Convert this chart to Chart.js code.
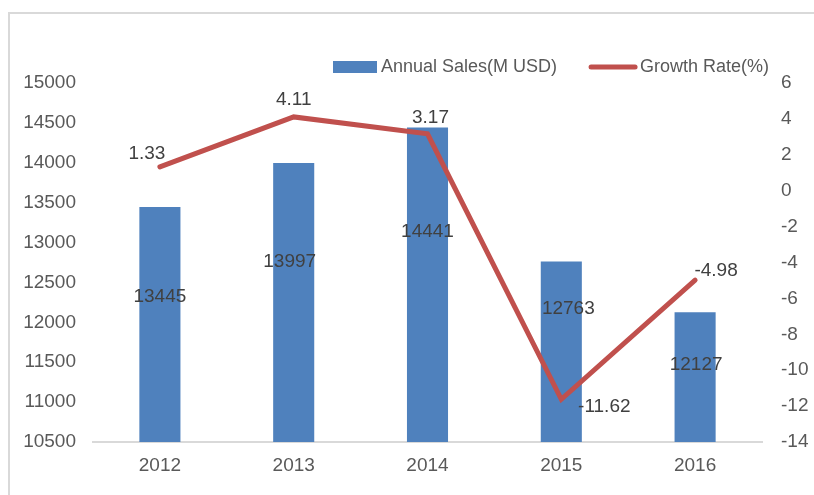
<!DOCTYPE html>
<html>
<head>
<meta charset="utf-8">
<script src="https://cdn.jsdelivr.net/npm/chart.js@4.4.1/dist/chart.umd.min.js"></script>
<style>
  html, body { margin: 0; padding: 0; background: #ffffff; }
  #wrap { position: relative; width: 814px; height: 495px; overflow: hidden; background: #ffffff; }
  #frame { position: absolute; left: 8px; top: 12px; width: 900px; height: 600px; border: 2px solid #d9d9d9; box-sizing: border-box; }
  #c { position: absolute; left: 0; top: 0; }
</style>
</head>
<body>
<div id="wrap">
  <div id="frame"></div>
  <canvas id="c" width="814" height="495"></canvas>
</div>
<script>
// ---- data ----
const years = ['2012', '2013', '2014', '2015', '2016'];
const annualSales = [13445, 13997, 14441, 12763, 12127];
const growthRate = [1.33, 4.11, 3.17, -11.62, -4.98];
const salesLabel = 'Annual Sales(M USD)';
const growthLabel = 'Growth Rate(%)';

const FONT = 'Arial, "Liberation Sans", sans-serif';
const BLUE = '#4F81BD';
const RED = '#C0504D';
const TEXT = '#595959';
const LABEL = '#404040';

// data labels drawn from element positions computed by the library
const dataLabelPlugin = {
  id: 'dataLabels',
  afterDatasetsDraw(chart, args, opts) {
    const ctx = chart.ctx;
    ctx.save();
    ctx.font = '19px ' + FONT;
    ctx.fillStyle = LABEL;
    ctx.textAlign = 'center';
    ctx.textBaseline = 'middle';
    // bars
    const base = chart.scales.y.bottom;
    const barMeta = chart.getDatasetMeta(0);
    barMeta.data.forEach((el, i) => {
      const off = opts.barOffsets[i];
      const p = el.getProps(['x', 'y'], true);
      const cy = (p.y + base) / 2;
      ctx.fillText(String(chart.data.datasets[0].data[i]), p.x + off[0], cy + off[1]);
    });
    // line
    const lineMeta = chart.getDatasetMeta(1);
    lineMeta.data.forEach((el, i) => {
      const off = opts.lineOffsets[i];
      const p = el.getProps(['x', 'y'], true);
      ctx.fillText(chart.data.datasets[1].data[i].toFixed(2), p.x + off[0], p.y + off[1]);
    });
    ctx.restore();
  }
};

// legend drawn from dataset labels/colours
const legendPlugin = {
  id: 'customLegend',
  afterDraw(chart, args, opts) {
    const ctx = chart.ctx;
    const ds = chart.data.datasets;
    ctx.save();
    ctx.font = '18px ' + FONT;
    ctx.textBaseline = 'middle';
    ctx.textAlign = 'left';
    let x = opts.x;
    const y = opts.y;
    // bar item
    ctx.fillStyle = ds[0].backgroundColor;
    ctx.fillRect(x, y - 6, 44, 12);
    x += 44 + 4;
    ctx.fillStyle = TEXT;
    ctx.fillText(ds[0].label, x, y);
    x += ctx.measureText(ds[0].label).width + 32;
    // line item
    ctx.strokeStyle = ds[1].borderColor;
    ctx.lineWidth = 5;
    ctx.lineCap = 'round';
    ctx.beginPath();
    ctx.moveTo(x + 2, y);
    ctx.lineTo(x + 46, y);
    ctx.stroke();
    x += 48 + 3;
    ctx.fillStyle = TEXT;
    ctx.fillText(ds[1].label, x, y);
    ctx.restore();
  }
};

const plainTick = v => String(v);

new Chart(document.getElementById('c'), {
  data: {
    labels: years,
    datasets: [
      {
        type: 'bar',
        label: salesLabel,
        data: annualSales,
        backgroundColor: BLUE,
        borderWidth: 0,
        yAxisID: 'y',
        categoryPercentage: 1.0,
        barPercentage: 0.307,
        order: 2
      },
      {
        type: 'line',
        label: growthLabel,
        data: growthRate,
        borderColor: RED,
        backgroundColor: RED,
        borderWidth: 5,
        borderCapStyle: 'round',
        borderJoinStyle: 'miter',
        pointRadius: 0,
        pointHoverRadius: 0,
        tension: 0,
        yAxisID: 'y1',
        order: 1
      }
    ]
  },
  options: {
    responsive: false,
    animation: false,
    devicePixelRatio: 1,
    layout: { padding: { top: 83, left: 0, right: 0, bottom: 0 } },
    plugins: {
      legend: { display: false },
      tooltip: { enabled: false },
      dataLabels: {
        barOffsets: [[0, -28], [-4, -41], [0, -53], [7, -43], [1, -12]],
        lineOffsets: [[-13, -13], [0, -17], [3, -16], [43, 7], [21, -9]]
      },
      customLegend: { x: 333, y: 67 }
    },
    scales: {
      x: {
        type: 'category',
        grid: { display: false, drawTicks: false },
        border: { display: true, color: '#d9d9d9', width: 2 },
        ticks: { color: TEXT, font: { family: FONT, size: 19 }, padding: 12, maxRotation: 0 },
        afterFit(scale) { scale.height = 53; }
      },
      y: {
        position: 'left',
        min: 10500,
        max: 15000,
        grid: { display: false, drawTicks: false },
        border: { display: false },
        ticks: { stepSize: 500, color: TEXT, font: { family: FONT, size: 19 }, padding: 17, callback: plainTick },
        afterFit(scale) { scale.width = 93; }
      },
      y1: {
        position: 'right',
        min: -14,
        max: 6,
        grid: { display: false, drawTicks: false },
        border: { display: false },
        ticks: { stepSize: 2, color: TEXT, font: { family: FONT, size: 19 }, padding: 19, callback: plainTick },
        afterFit(scale) { scale.width = 52; }
      }
    }
  },
  plugins: [dataLabelPlugin, legendPlugin]
});
</script>
</body>
</html>
